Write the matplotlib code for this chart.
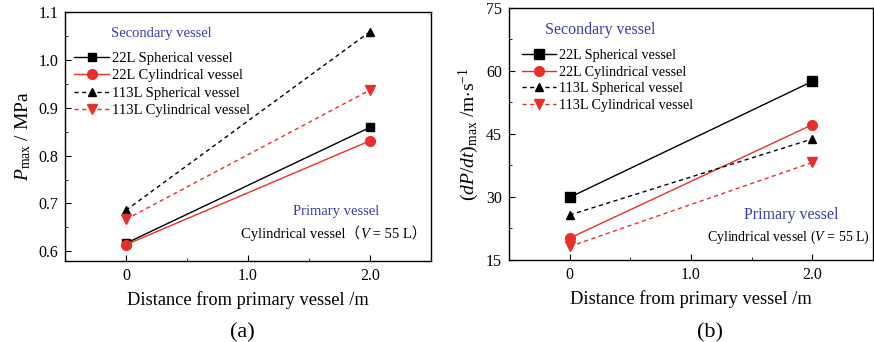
import matplotlib.pyplot as plt
from matplotlib.ticker import MultipleLocator

plt.rcParams['font.family'] = 'Liberation Serif'
plt.rcParams['mathtext.fontset'] = 'custom'
plt.rcParams['mathtext.rm'] = 'Liberation Serif'
plt.rcParams['mathtext.it'] = 'Liberation Serif:italic'

# distance from the primary vessel (m)
distance = [0, 2.0]

labels = ['22L Spherical vessel', '22L Cylindrical vessel',
          '113L Spherical vessel', '113L Cylindrical vessel']

# maximum explosion pressure (MPa)
pmax_22_sph = [0.617, 0.859]
pmax_22_cyl = [0.614, 0.831]
pmax_113_sph = [0.686, 1.059]
pmax_113_cyl = [0.667, 0.937]

# maximum rate of pressure rise (MPa/s)
dpdt_22_sph = [29.9, 57.5]
dpdt_22_cyl = [20.2, 47.2]
dpdt_113_sph = [25.7, 43.8]
dpdt_113_cyl = [18.2, 38.2]

red = '#e8302a'
blue = '#3a3aa8'
cjk = ['Liberation Serif', 'Noto Sans CJK SC']
styles = [dict(color='k', ls='-', marker='s'),
          dict(color=red, ls='-', marker='o'),
          dict(color='k', ls=(0, (3, 2.5)), marker='^'),
          dict(color=red, ls=(0, (3, 2.5)), marker='v')]

fig = plt.figure(figsize=(8.74, 3.42), dpi=100)
ax1 = fig.add_axes([0.0744, 0.237, 0.4188, 0.728])
ax2 = fig.add_axes([0.5824, 0.240, 0.4165, 0.737])


def draw(ax, series, sizes, fs, anchor, spacing):
    for s, st, lab, ms in zip(series, styles, labels, sizes):
        ax.plot(distance, s, lw=1.0, ms=ms, label=lab, **st)
    ax.set_xlim(-0.5, 2.5)
    ax.set_xticks([0, 1.0, 2.0])
    ax.set_xticklabels(['0', '1.0', '2.0'])
    ax.xaxis.set_minor_locator(MultipleLocator(0.5))
    ax.tick_params(which='both', direction='in', labelsize=11.5, top=False, right=False, pad=5)
    ax.tick_params(which='major', length=4)
    ax.tick_params(which='minor', length=2.5)
    ax.set_xlabel('Distance from primary vessel /m', fontsize=13.2, labelpad=5)
    for sp in ax.spines.values():
        sp.set_linewidth(1.0)
    ax.legend(loc='upper left', bbox_to_anchor=anchor, frameon=False,
              fontsize=fs, handlelength=2.4, handletextpad=0.2,
              labelspacing=spacing, borderaxespad=0)


draw(ax1, [pmax_22_sph, pmax_22_cyl, pmax_113_sph, pmax_113_cyl], [6, 7, 6, 7],
     10.5, (0.009, 0.865), 0.3)
ax1.set_ylim(0.58, 1.1)
ax1.set_yticks([0.6, 0.7, 0.8, 0.9, 1.0, 1.1])
ax1.yaxis.set_minor_locator(MultipleLocator(0.05))
ax1.set_ylabel(r'$\mathit{P}_{\mathrm{max}}$ / MPa', fontsize=14, labelpad=4)
ax1.text(0.126, 0.912, 'Secondary vessel', color=blue, fontsize=10.5,
         transform=ax1.transAxes, va='center')
ax1.text(0.858, 0.197, 'Primary vessel', color=blue, fontsize=10.5,
         transform=ax1.transAxes, va='center', ha='right')
# note in three pieces so the volume symbol stays italic next to the wide brackets
t1 = ax1.text(0.481, 0.112, 'Cylindrical vessel（', fontsize=10.5, family=cjk,
              transform=ax1.transAxes, va='center')
t2 = ax1.annotate('V', xy=(1, 0), xycoords=t1, va='bottom', fontsize=10.5,
                  family=cjk, style='italic')
ax1.annotate(' = 55 L）', xy=(1, 0), xycoords=t2, va='bottom', fontsize=10.5, family=cjk)

draw(ax2, [dpdt_22_sph, dpdt_22_cyl, dpdt_113_sph, dpdt_113_cyl], [7, 7, 6, 7],
     10.2, (0.02, 0.86), 0.26)
ax2.set_ylim(15, 75)
ax2.set_yticks([15, 30, 45, 60, 75])
ax2.yaxis.set_minor_locator(MultipleLocator(7.5))
ax2.set_ylabel(r'$(\mathit{dP/dt})_{\mathrm{max}}$ /m$\cdot$s$^{-1}$', fontsize=14, labelpad=4)
ax2.text(0.10, 0.913, 'Secondary vessel', color=blue, fontsize=11.5,
         transform=ax2.transAxes, va='center')
ax2.text(0.904, 0.179, 'Primary vessel', color=blue, fontsize=11.5,
         transform=ax2.transAxes, va='center', ha='right')
ax2.text(0.544, 0.091, 'Cylindrical vessel ($V$ = 55 L)', fontsize=10,
         transform=ax2.transAxes, va='center')

fig.text(0.277, 0.027, '(a)', fontsize=16, ha='center', va='center')
fig.text(0.812, 0.027, '(b)', fontsize=16, ha='center', va='center')

fig.savefig('out.png', dpi=100)
